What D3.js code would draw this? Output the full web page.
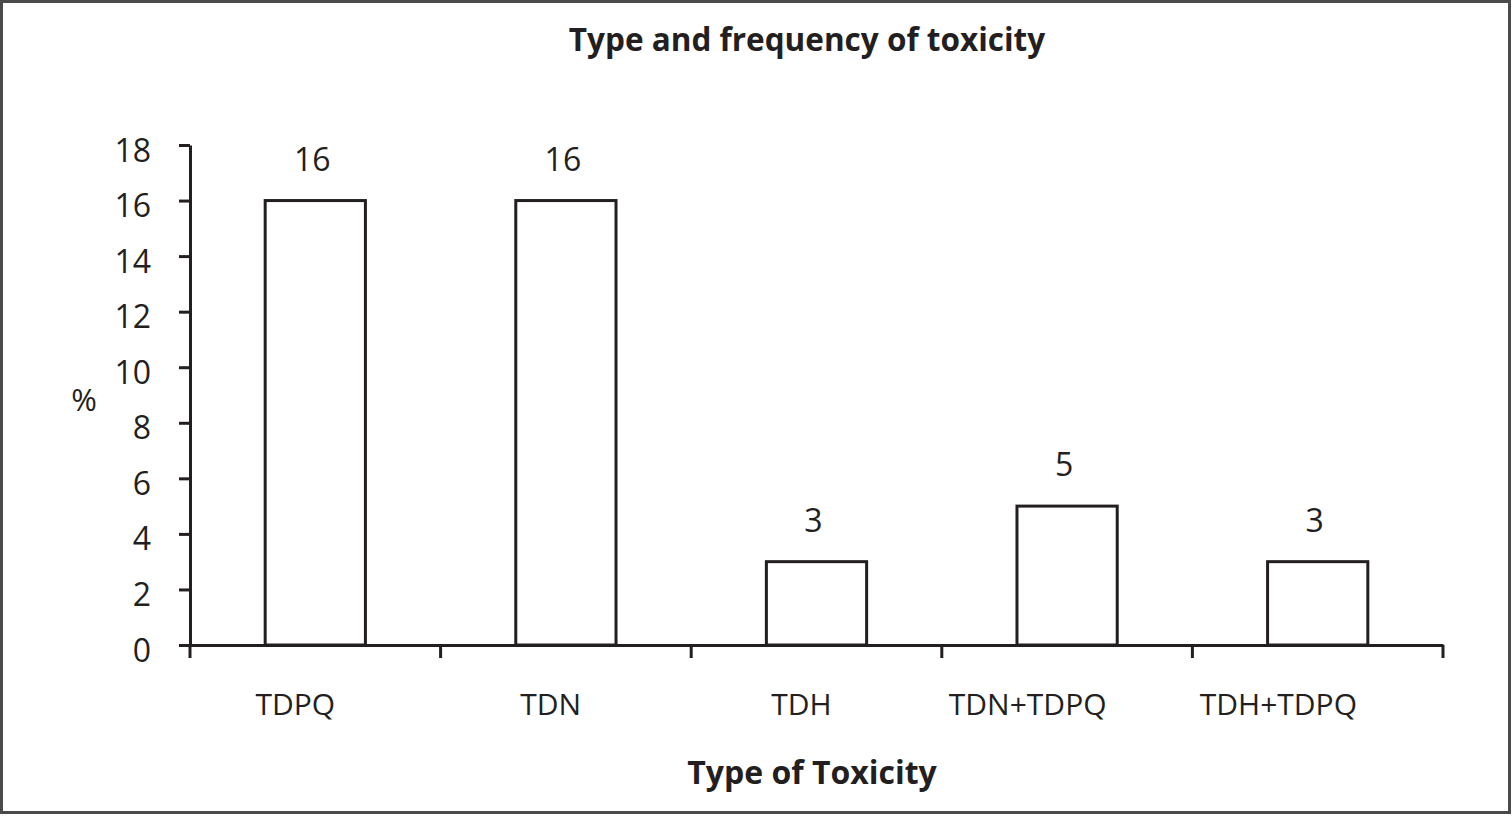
<!DOCTYPE html>
<html>
<head>
<meta charset="utf-8">
<script src="https://cdn.jsdelivr.net/npm/d3@7"></script>
<style>
  body { margin: 0; background: #fff; }
  svg text { font-family: "Open Sans", sans-serif; fill: #231f20; }
</style>
</head>
<body>
<svg id="chart" width="1512" height="816"></svg>
<script>
const categories = ["TDPQ", "TDN", "TDH", "TDN+TDPQ", "TDH+TDPQ"];
const values = [16, 16, 3, 5, 3];
const yTicks = [0, 2, 4, 6, 8, 10, 12, 14, 16, 18];

const svg = d3.select("#chart");
const ink = "#231f20";
const margin = { top: 145, bottom: 171, left: 190, right: 69 };
const width = 1512, height = 816;

// frame around the whole figure
svg.append("rect")
  .attr("x", 1.5).attr("y", 1.5)
  .attr("width", width - 4).attr("height", height - 5)
  .attr("fill", "none").attr("stroke", "#4a4a4a").attr("stroke-width", 3);

// title
svg.append("text")
  .attr("x", 807).attr("y", 51)
  .attr("text-anchor", "middle")
  .style("font-size", "31.5px").style("font-weight", "bold")
  .text("Type and frequency of toxicity");

const x = d3.scaleBand()
  .domain(categories)
  .range([margin.left, width - margin.right])
  .paddingInner(0.6)
  .paddingOuter(0.3);

const y = d3.scaleLinear()
  .domain([0, 18])
  .range([height - margin.bottom, margin.top]);

// y axis
const yAxis = svg.append("g")
  .attr("transform", `translate(${margin.left},0)`)
  .call(d3.axisLeft(y).tickValues(yTicks).tickSize(11).tickPadding(28).tickSizeOuter(0));
yAxis.select(".domain").attr("stroke", ink).attr("stroke-width", 3);
yAxis.selectAll(".tick line").attr("stroke", ink).attr("stroke-width", 3);
yAxis.selectAll(".tick text")
  .style("font-size", "32px")
  .attr("dy", "0.5em");

// bars
svg.append("g")
  .selectAll("rect")
  .data(values)
  .join("rect")
  .attr("x", (d, i) => x(categories[i]))
  .attr("y", (d) => y(d))
  .attr("width", x.bandwidth())
  .attr("height", (d) => y(0) - y(d))
  .attr("fill", "#fff")
  .attr("stroke", ink)
  .attr("stroke-width", 3);

// value labels
svg.append("g")
  .selectAll("text")
  .data(values)
  .join("text")
  .attr("x", (d, i) => x(categories[i]) + x.bandwidth() / 2 - 3)
  .attr("y", (d) => y(d) - 30)
  .attr("text-anchor", "middle")
  .style("font-size", "32px")
  .text((d) => d);

// x axis with category labels
const xAxis = svg.append("g")
  .attr("transform", `translate(0,${y(0)})`)
  .call(d3.axisBottom(x).tickSize(0).tickPadding(49).tickSizeOuter(0));
xAxis.select(".domain").attr("stroke", ink).attr("stroke-width", 3);
xAxis.selectAll(".tick text")
  .style("font-size", "30px")
  .attr("x", function () {
    // labels in the original sit a bit left of the band centre
    return -this.getComputedTextLength() / 4;
  });

// boundary ticks between categories
const step = x.step();
const edges = d3.range(categories.length + 1).map((i) => margin.left + i * step);
svg.append("g")
  .selectAll("line")
  .data(edges)
  .join("line")
  .attr("x1", (d) => d).attr("x2", (d) => d)
  .attr("y1", y(0)).attr("y2", y(0) + 13)
  .attr("stroke", ink).attr("stroke-width", 3);

// axis titles
svg.append("text")
  .attr("x", 812).attr("y", 784)
  .attr("text-anchor", "middle")
  .style("font-size", "32px").style("font-weight", "bold")
  .text("Type of Toxicity");

svg.append("text")
  .attr("x", 84).attr("y", 411)
  .attr("text-anchor", "middle")
  .style("font-size", "31px")
  .text("%");
</script>
</body>
</html>
